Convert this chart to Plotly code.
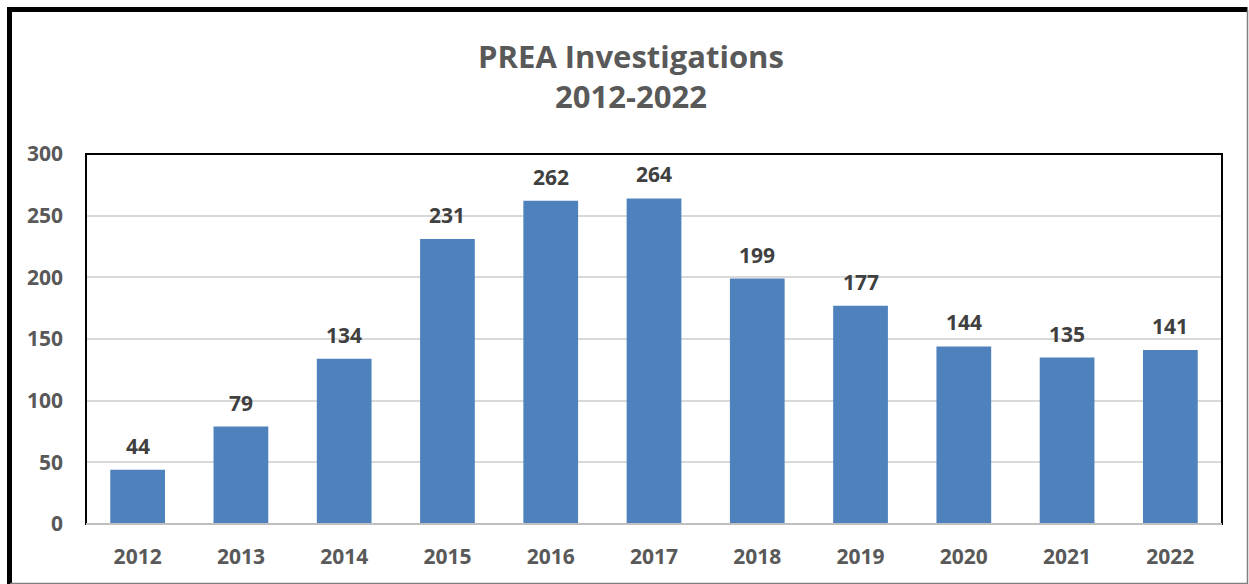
import plotly.graph_objects as go

years = ["2012", "2013", "2014", "2015", "2016", "2017", "2018", "2019", "2020", "2021", "2022"]
counts = [44, 79, 134, 231, 262, 264, 199, 177, 144, 135, 141]
y_ticks = [0, 50, 100, 150, 200, 250, 300]

W, H = 1249, 584
L, R, T, B = 86, 1222, 154, 524
pw, ph = R - L, B - T

def px_x(p):
    return (p - L) / pw

def px_y(p):
    return (B - p) / ph

FONT = "Open Sans"
GRAY = "#595959"

fig = go.Figure()
fig.add_trace(go.Bar(x=years, y=counts, marker=dict(color="#4F81BD", line=dict(width=0)),
                     hoverinfo="x+y"))

for i, cv in enumerate(counts):
    fig.add_annotation(x=i, y=cv, xref="x", yref="y", text=str(cv), showarrow=False, yshift=24,
                       font=dict(family=FONT, size=21, color="#404040", weight="bold"))

shapes = [
    dict(type="rect", xref="paper", yref="paper", x0=0, x1=1, y0=0, y1=1,
         line=dict(color="black", width=2), layer="above"),
    dict(type="line", xref="paper", yref="paper", x0=0, x1=1, y0=0, y1=0,
         line=dict(color="#BFBFBF", width=2), layer="above"),
    dict(type="line", xref="paper", yref="paper", x0=px_x(9.5), x1=px_x(9.5), y0=px_y(7), y1=px_y(590),
         line=dict(color="black", width=5)),
    dict(type="line", xref="paper", yref="paper", x0=px_x(7), x1=px_x(1247.5), y0=px_y(9.5), y1=px_y(9.5),
         line=dict(color="black", width=5)),
    dict(type="line", xref="paper", yref="paper", x0=px_x(1247.5), x1=px_x(1247.5), y0=px_y(10), y1=px_y(584),
         line=dict(color="#7F7F7F", width=1.5)),
    dict(type="line", xref="paper", yref="paper", x0=px_x(10), x1=px_x(1248), y0=px_y(583.5), y1=px_y(583.5),
         line=dict(color="#7F7F7F", width=1.5)),
]

fig.update_layout(
    width=W, height=H,
    margin=dict(l=L, r=W - R, t=T, b=H - B, autoexpand=False),
    paper_bgcolor="white", plot_bgcolor="white",
    showlegend=False,
    bargap=0.47,
    title=dict(text="PREA Investigations<br>2012-2022", x=631 / W, xref="container", xanchor="center",
               y=1 - 68 / H, yanchor="middle",
               font=dict(family=FONT, size=31, color=GRAY, weight="bold")),
    xaxis=dict(type="category", range=[-0.5, len(years) - 0.5], showgrid=False, showline=False,
               zeroline=False, ticks="", ticklabelstandoff=18,
               tickfont=dict(family=FONT, size=21, color=GRAY, weight="bold")),
    yaxis=dict(range=[0, 300], tickvals=y_ticks, showgrid=True, gridcolor="#D9D9D9", gridwidth=1.5,
               zeroline=False, showline=False, ticks="", ticklabelstandoff=22,
               tickfont=dict(family=FONT, size=21, color=GRAY, weight="bold")),
    shapes=shapes,
)

fig.write_html("out.html", config={"displayModeBar": False},
               post_script="document.body.style.margin='0';")
